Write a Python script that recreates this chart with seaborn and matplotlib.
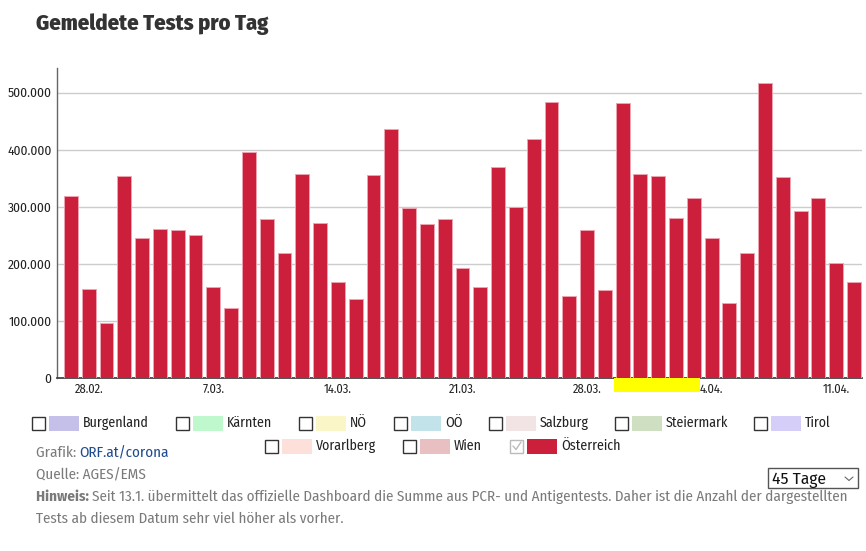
import matplotlib
matplotlib.use("Agg")
import matplotlib.pyplot as plt
import matplotlib.patches as mpatches
import seaborn as sns
import pandas as pd

# ---- data ----
dates = ["27.02.", "28.02.", "1.03.", "2.03.", "3.03.", "4.03.", "5.03.", "6.03.", "7.03.",
         "8.03.", "9.03.", "10.03.", "11.03.", "12.03.", "13.03.", "14.03.", "15.03.", "16.03.",
         "17.03.", "18.03.", "19.03.", "20.03.", "21.03.", "22.03.", "23.03.", "24.03.", "25.03.",
         "26.03.", "27.03.", "28.03.", "29.03.", "30.03.", "31.03.", "1.04.", "2.04.", "3.04.",
         "4.04.", "5.04.", "6.04.", "7.04.", "8.04.", "9.04.", "10.04.", "11.04.", "12.04."]
tests = [318000, 156000, 96000, 354000, 245000, 261000, 259000, 251000, 159000,
         122000, 396000, 278000, 219000, 357000, 271000, 168000, 139000, 355000,
         436000, 298000, 269000, 278000, 193000, 160000, 369000, 300000, 418000,
         484000, 143000, 260000, 155000, 482000, 358000, 353000, 281000, 316000,
         245000, 132000, 219000, 516000, 352000, 293000, 316000, 201000, 169000]
shown_labels = ["28.02.", "7.03.", "14.03.", "21.03.", "28.03.", "4.04.", "11.04."]
y_ticks = [0, 100000, 200000, 300000, 400000, 500000]

regions = ["Burgenland", "Kärnten", "NÖ", "OÖ", "Salzburg", "Steiermark", "Tirol",
           "Vorarlberg", "Wien", "Österreich"]
region_colors = ["#c5c0ea", "#bff8cc", "#faf6c8", "#c2e3ea", "#f2e3e4", "#cfdfc2",
                 "#d5cef8", "#fde0d9", "#e9c0c2", "#cc1f3b"]
region_checked = [False] * 9 + [True]

title = "Gemeldete Tests pro Tag"
note1 = ("Seit 13.1. übermittelt das offizielle Dashboard die Summe aus PCR- und Antigentests. "
         "Daher ist die Anzahl der dargestellten")
note2 = "Tests ab diesem Datum sehr viel höher als vorher."

BAR = "#cc1f3b"
FONT = ["Fira Sans Condensed", "DejaVu Sans"]

sns.set_theme(style="white")
plt.rcParams["font.family"] = FONT

W, H = 866, 551
fig = plt.figure(figsize=(W / 100, H / 100), dpi=100)
renderer = fig.canvas.get_renderer()

def fx(px):
    return px / W

def fy(py):
    return 1 - py / H

def width_px(t):
    return t.get_window_extent(renderer=renderer).width

def fit_size(text, target, **kw):
    t = fig.text(0.5, 0.5, text, fontsize=10, **kw)
    w = width_px(t)
    t.remove()
    return 10 * target / w

ax = fig.add_axes([fx(57), fy(378), fx(862) - fx(57), fy(68) - fy(378)])

df = pd.DataFrame({"date": dates, "tests": tests})
sns.barplot(data=df, x="date", y="tests", color=BAR, width=0.78, saturation=1,
            edgecolor="#eda3b0", linewidth=0.7, ax=ax, zorder=3)

ytick_labels = [f"{v:,}".replace(",", ".") for v in y_ticks]
ys = fit_size("500.000", 44)
xs = fit_size("28.02.", 29)

ax.set_xlim(-0.784, 44.45)
ax.set_ylim(0, 543000)
ax.set_yticks(y_ticks)
ax.set_yticklabels(ytick_labels, fontsize=ys, color="#222222")
pos = [dates.index(d) for d in shown_labels]
ax.set_xticks(pos)
ax.set_xticklabels(shown_labels, fontsize=xs, color="#222222")
ax.tick_params(axis="y", length=0, pad=4)
ax.tick_params(axis="x", length=0, pad=4)
ax.set_xlabel("")
ax.set_ylabel("")
ax.yaxis.grid(True, color="#cccccc", linewidth=1, zorder=0)
ax.set_axisbelow(True)
for s in ["top", "right"]:
    ax.spines[s].set_visible(False)
ax.spines["left"].set_color("#666666")
ax.spines["left"].set_linewidth(1)
ax.spines["bottom"].set_color("#444444")
ax.spines["bottom"].set_linewidth(1.3)

# title
ts = fit_size(title, 232, fontweight=800)
fig.text(fx(36), fy(30), title, fontsize=ts, fontweight=800,
         color="#333333", va="baseline", ha="left")

# yellow highlight overlay seen in reference
fig.patches.append(mpatches.Rectangle((fx(614), fy(392)), fx(700) - fx(614), fy(378.5) - fy(392),
                                      transform=fig.transFigure, facecolor="#ffff00",
                                      edgecolor="none", zorder=5))

# legend with checkboxes
ls = fit_size("Burgenland", 66)
row1 = [(32, 423), (176, 423), (299, 423), (394, 423), (489, 423), (615, 423), (754, 423)]
row2 = [(265, 446), (403, 446), (510, 446)]
anchors = row1 + row2
for (cx, cy), name, col, chk in zip(anchors, regions, region_colors, region_checked):
    edge = "#bbbbbb" if chk else "#333333"
    fig.patches.append(mpatches.Rectangle((fx(cx), fy(cy + 6.5)), fx(13), 13 / H,
                                          transform=fig.transFigure, facecolor="white",
                                          edgecolor=edge, linewidth=1))
    if chk:
        fig.lines.append(plt.Line2D([fx(cx + 3), fx(cx + 6), fx(cx + 11)],
                                    [fy(cy), fy(cy + 3.5), fy(cy - 4)],
                                    transform=fig.transFigure, color="#bbbbbb", linewidth=1))
    fig.patches.append(mpatches.Rectangle((fx(cx + 17), fy(cy + 7.5)), fx(30), 15 / H,
                                          transform=fig.transFigure, facecolor=col,
                                          edgecolor="none"))
    fig.text(fx(cx + 51), fy(cy), name, fontsize=ls, color="#222222", va="center", ha="left")

# footer
GREY = "#7a7a7a"
hb = fig.text(0.5, 0.5, "Hinweis: ", fontsize=10, fontweight="bold")
wb = width_px(hb)
hb.remove()
hn = fig.text(0.5, 0.5, note1, fontsize=10)
wn = width_px(hn)
hn.remove()
fs = 10 * (850 - 36) / (wb + wn)

t = fig.text(fx(36), fy(457), "Grafik: ", fontsize=fs, color=GREY, va="baseline", ha="left")
bb = t.get_window_extent(renderer=renderer)
fig.text(bb.x1 / W, fy(457), "ORF.at/corona", fontsize=fs, color="#1f4b8f", va="baseline", ha="left")
fig.text(fx(36), fy(479), "Quelle: AGES/EMS", fontsize=fs, color=GREY, va="baseline", ha="left")
t2 = fig.text(fx(36), fy(501), "Hinweis: ", fontsize=fs, color=GREY, fontweight="bold",
              va="baseline", ha="left")
bb2 = t2.get_window_extent(renderer=renderer)
fig.text(bb2.x1 / W, fy(501), note1, fontsize=fs, color=GREY, va="baseline", ha="left")
fig.text(fx(36), fy(523), note2, fontsize=fs, color=GREY, va="baseline", ha="left")

# dropdown
fig.patches.append(mpatches.Rectangle((fx(768), fy(488)), fx(90), 20 / H,
                                      transform=fig.transFigure, facecolor="white",
                                      edgecolor="#555555", linewidth=1))
fig.text(fx(772), fy(484), "45 Tage", fontsize=12.5, color="#111111", va="baseline", ha="left")
fig.lines.append(plt.Line2D([fx(845), fx(849), fx(853)], [fy(477), fy(480.5), fy(477)],
                            transform=fig.transFigure, color="#666666", linewidth=0.8))

fig.savefig("out.png", dpi=100)
